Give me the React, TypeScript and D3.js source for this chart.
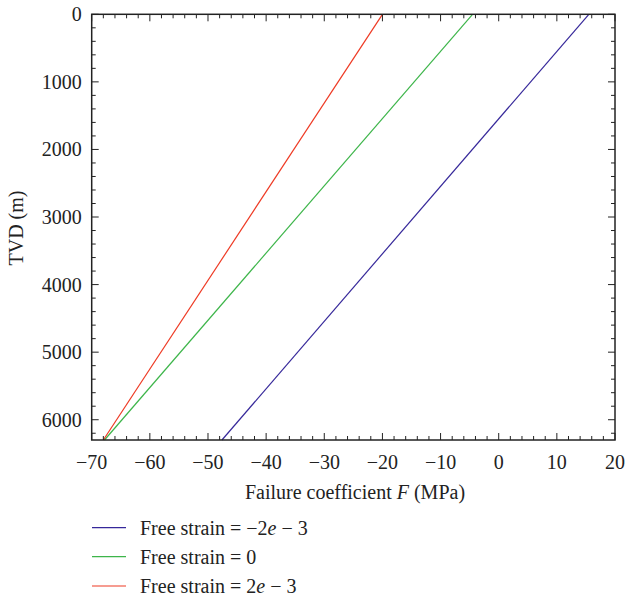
import React from "react";
import * as d3 from "d3";

// Depth range (m) and failure coefficient F (MPa) at top and bottom of each profile
const depths = [0, 6300];
const seriesNames = ["Free strain = \u22122e \u2212 3", "Free strain = 0", "Free strain = 2e \u2212 3"];
const fNegStrain = [15.5, -47.6];
const fZeroStrain = [-4.5, -67.8];
const fPosStrain = [-20, -68];
const seriesColors = ["#36289a", "#3db54a", "#ee3a24"];

const xTicks = [-70, -60, -50, -40, -30, -20, -10, 0, 10, 20];
const yTicks = [0, 1000, 2000, 3000, 4000, 5000, 6000];

const W = 625;
const H = 597;
const M = { left: 91.7, top: 14.3, right: 615, bottom: 440 };
const FONT = "Liberation Serif, DejaVu Serif, serif";
const FS = 20;

const fmt = (v: number) => (v < 0 ? "\u2212" + Math.abs(v) : String(v));

// Renders a legend label with the exponent "e" set in italics
function LegendLabel({ name }: { name: string }) {
  const idx = name.lastIndexOf("e ");
  if (idx < 0 || idx < name.indexOf("=")) return <>{name}</>;
  return (
    <>
      {name.slice(0, idx)}
      <tspan fontStyle="italic">e</tspan>
      {name.slice(idx + 1)}
    </>
  );
}

export default function App() {
  const x = d3.scaleLinear().domain([-70, 20]).range([M.left, M.right]);
  const y = d3.scaleLinear().domain([0, 6300]).range([M.top, M.bottom]);

  const series = [fNegStrain, fZeroStrain, fPosStrain].map((vals) =>
    vals.map((f, i) => ({ f, d: depths[i] }))
  );
  const line = d3
    .line<{ f: number; d: number }>()
    .x((p) => x(p.f))
    .y((p) => y(p.d));

  const xMinor = d3.range(-70, 20.001, 2);
  const yMinor = d3.range(0, 6300.001, 200);
  const major = 7;
  const minor = 4;

  const legendY = [527.7, 556.7, 586];

  return (
    <svg
      width={W}
      height={H}
      style={{ position: "absolute", left: 0, top: 0, background: "#fff", fontFamily: FONT }}
    >
      {/* data lines */}
      <g fill="none" strokeWidth={1.2}>
        {series.map((s, i) => (
          <path key={i} d={line(s) ?? ""} stroke={seriesColors[i]} />
        ))}
      </g>

      {/* ticks on all four sides, pointing inward */}
      <g stroke="#222" strokeWidth={1}>
        {xMinor.map((v) => {
          const isMajor = Math.abs(v % 10) < 1e-6;
          const len = isMajor ? major : minor;
          return (
            <g key={"x" + v}>
              <line x1={x(v)} x2={x(v)} y1={M.bottom} y2={M.bottom - len} />
              <line x1={x(v)} x2={x(v)} y1={M.top} y2={M.top + len} />
            </g>
          );
        })}
        {yMinor.map((v) => {
          const isMajor = Math.abs(v % 1000) < 1e-6;
          const len = isMajor ? major : minor;
          return (
            <g key={"y" + v}>
              <line x1={M.left} x2={M.left + len} y1={y(v)} y2={y(v)} />
              <line x1={M.right} x2={M.right - len} y1={y(v)} y2={y(v)} />
            </g>
          );
        })}
      </g>

      {/* frame */}
      <rect
        x={M.left}
        y={M.top}
        width={M.right - M.left}
        height={M.bottom - M.top}
        fill="none"
        stroke="#222"
        strokeWidth={1.5}
      />

      {/* tick labels */}
      <g fontSize={FS} fill="#222">
        {xTicks.map((v) => (
          <text key={"xl" + v} x={x(v)} y={M.bottom + 29} textAnchor="middle">
            {fmt(v)}
          </text>
        ))}
        {yTicks.map((v) => (
          <text key={"yl" + v} x={M.left - 10} y={y(v) + 7} textAnchor="end">
            {fmt(v)}
          </text>
        ))}
      </g>

      {/* axis titles */}
      <text x={355} y={499} textAnchor="middle" fontSize={FS} fill="#222">
        Failure coefficient <tspan fontStyle="italic">F</tspan> (MPa)
      </text>
      <text
        transform={`translate(23, 228) rotate(-90)`}
        textAnchor="middle"
        fontSize={FS}
        fill="#222"
      >
        TVD (m)
      </text>

      {/* legend */}
      <g fontSize={FS} fill="#222">
        {seriesNames.map((name, i) => (
          <g key={name}>
            <line
              x1={92}
              x2={126}
              y1={legendY[i]}
              y2={legendY[i]}
              stroke={seriesColors[i]}
              strokeWidth={1.2}
            />
            <text x={140} y={legendY[i] + 7}>
              <LegendLabel name={name} />
            </text>
          </g>
        ))}
      </g>
    </svg>
  );
}
